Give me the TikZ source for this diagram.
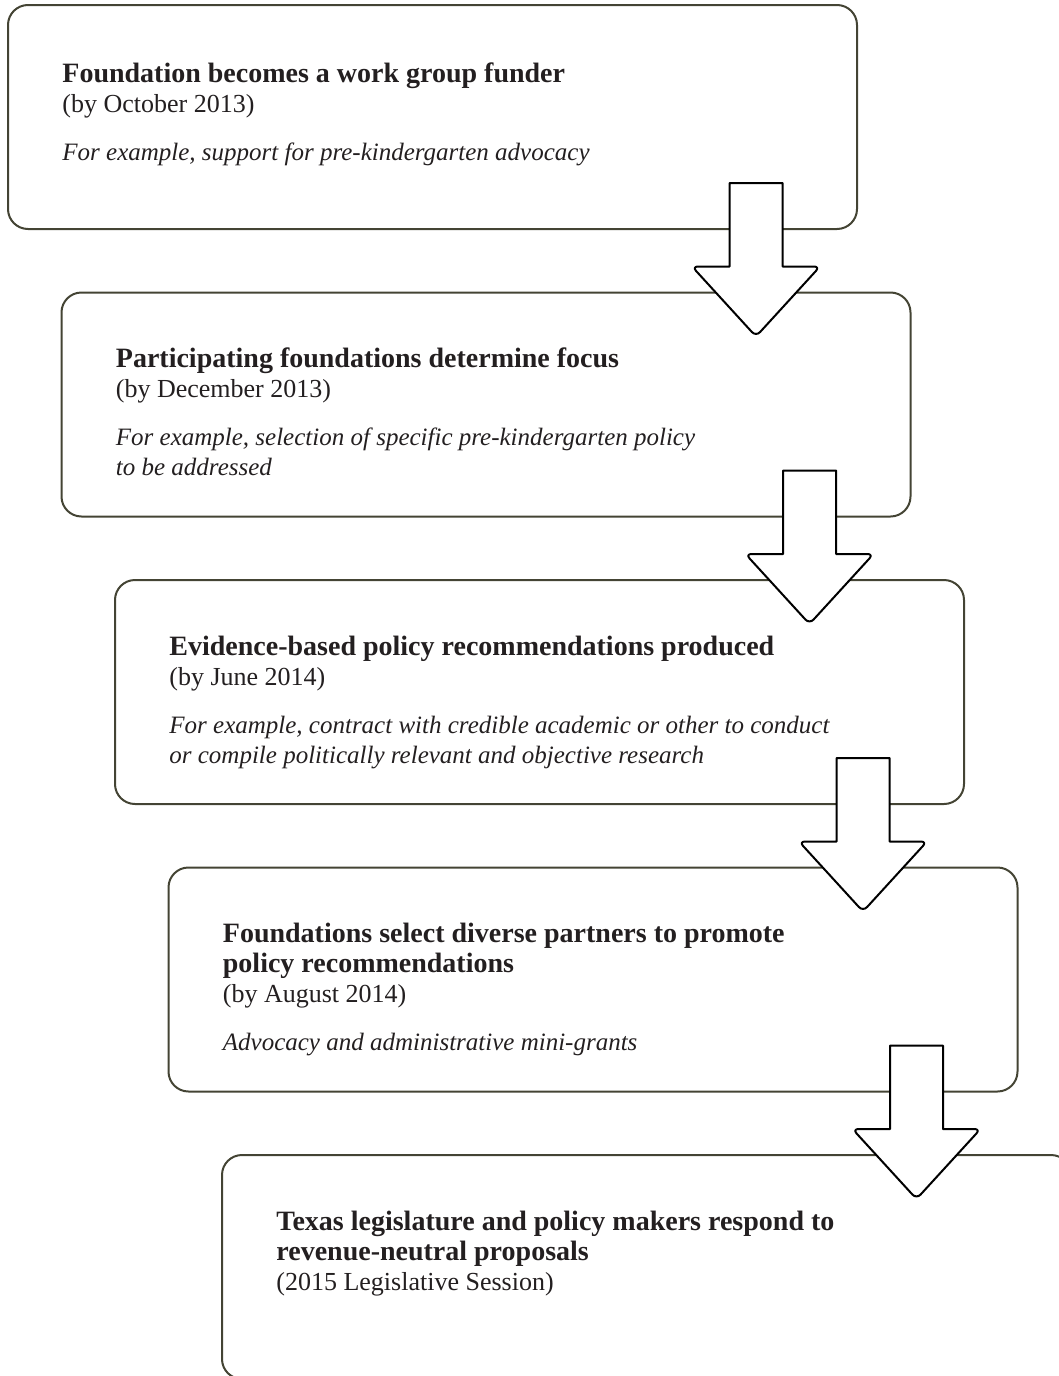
\documentclass[tikz,border=0pt]{standalone}
\usepackage{fontspec}
\setmainfont{Liberation Serif}
\usetikzlibrary{calc,positioning}
\definecolor{boxOlive}{RGB}{68,68,52}
\definecolor{textDark}{RGB}{35,31,32}
\newcommand{\stephead}[1]{{\fontsize{14}{15}\selectfont\bfseries #1}}
\newcommand{\stepnote}[1]{{\fontsize{12.5}{15}\selectfont\itshape #1}}

\begin{document}
\begin{tikzpicture}[font=\fontsize{13}{15}\selectfont,text=textDark,
    flowbox/.style={draw=boxOlive, line width=1pt, rounded corners=10pt, minimum width=424.5pt, minimum height=112pt, anchor=north west, inner sep=0pt, outer sep=0pt},
    boxtext/.style={anchor=north west, inner sep=0pt, align=left},
    flowarrow/.pic={
      \draw[fill=white, draw=black, line width=1pt, line join=round]
        (-13.25pt,0pt) -- (13.25pt,0pt) -- (13.25pt,-41.75pt)
        [rounded corners=3pt] -- (32pt,-41.75pt) -- (0pt,-76.75pt) -- (-32pt,-41.75pt)
        [sharp corners] -- (-13.25pt,-41.75pt) -- cycle;
    },
    ]
    \useasboundingbox (0pt,0pt) rectangle (529.5pt,-688pt);
    \clip (0pt,0pt) rectangle (529.5pt,-688pt);

    % the five steps
    \node[flowbox] (funder) at (4pt,-2.5pt) {};
    \node[flowbox] (focus) at ($(funder.south west)+(26.75pt,-31.75pt)$) {};
    \node[flowbox] (evidence) at ($(focus.south west)+(26.75pt,-31.75pt)$) {};
    \node[flowbox] (partners) at ($(evidence.south west)+(26.75pt,-31.75pt)$) {};
    \node[flowbox] (respond) at ($(partners.south west)+(26.75pt,-31.75pt)$) {};

    \node[boxtext] (funderText) at ($(funder.north west)+(27pt,-26.5pt)$) {\rule{0pt}{12pt}\stephead{Foundation becomes a work group funder}\\
      (by October 2013)\\[9pt]
      \stepnote{For example, support for pre-kindergarten advocacy}};
    \node[boxtext] (focusText) at ($(focus.north west)+(27pt,-25.5pt)$) {\rule{0pt}{12pt}\stephead{Participating foundations determine focus}\\
      (by December 2013)\\[9pt]
      \stepnote{For example, selection of specific pre-kindergarten policy}\\
      \stepnote{to be addressed}};
    \node[boxtext] (evidenceText) at ($(evidence.north west)+(27pt,-25.5pt)$) {\rule{0pt}{12pt}\stephead{Evidence-based policy recommendations produced}\\
      (by June 2014)\\[9pt]
      \stepnote{For example, contract with credible academic or other to conduct}\\
      \stepnote{or compile politically relevant and objective research}};
    \node[boxtext] (partnersText) at ($(partners.north west)+(27pt,-25.5pt)$) {\rule{0pt}{12pt}\stephead{Foundations select diverse partners to promote}\\
      \stephead{policy recommendations}\\
      (by August 2014)\\[9pt]
      \stepnote{Advocacy and administrative mini-grants}};
    \node[boxtext] (respondText) at ($(respond.north west)+(27pt,-25.5pt)$) {\rule{0pt}{12pt}\stephead{Texas legislature and policy makers respond to}\\
      \stephead{revenue-neutral proposals}\\
      (2015 Legislative Session)};

    % block arrows between steps
    \pic at ($(funder.south east)+(-50.5pt,23pt)$) {flowarrow};
    \pic at ($(focus.south east)+(-50.5pt,23pt)$) {flowarrow};
    \pic at ($(evidence.south east)+(-50.5pt,23pt)$) {flowarrow};
    \pic at ($(partners.south east)+(-50.5pt,23pt)$) {flowarrow};
\end{tikzpicture}
\end{document}
